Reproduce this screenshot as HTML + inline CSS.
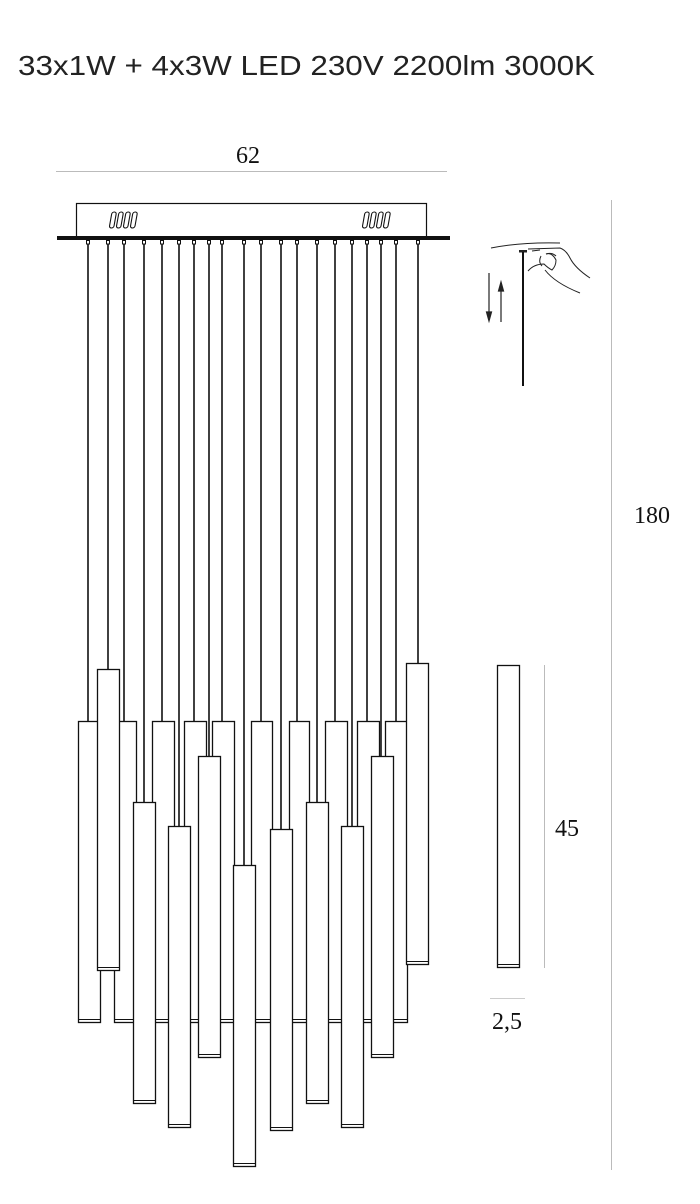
<!DOCTYPE html>
<html><head><meta charset="utf-8"><style>html,body{margin:0;padding:0;background:#fff}svg{display:block}</style></head>
<body>
<svg width="700" height="1204" viewBox="0 0 700 1204" xmlns="http://www.w3.org/2000/svg" font-family="'Liberation Serif', serif">
<rect width="700" height="1204" fill="#fff"/>
<text x="18" y="75" font-size="28" fill="#222" font-family="'Liberation Sans', sans-serif" textLength="577" lengthAdjust="spacingAndGlyphs">33x1W + 4x3W LED 230V  2200lm  3000K</text>
<text x="248" y="163" font-size="24" fill="#111" text-anchor="middle">62</text>
<line x1="56" y1="171.5" x2="447" y2="171.5" stroke="#bbb" stroke-width="1"/>
<line x1="611.5" y1="200" x2="611.5" y2="1170" stroke="#bbb" stroke-width="1"/>
<text x="652" y="523" font-size="24" fill="#111" text-anchor="middle">180</text>
<line x1="544.5" y1="665" x2="544.5" y2="968" stroke="#bbb" stroke-width="1"/>
<text x="567" y="836" font-size="24" fill="#111" text-anchor="middle">45</text>
<line x1="490" y1="998.5" x2="525" y2="998.5" stroke="#ccc" stroke-width="1"/>
<text x="507" y="1029" font-size="24" fill="#111" text-anchor="middle">2,5</text>

<rect x="76.5" y="203.5" width="350" height="34" fill="#fff" stroke="#111" stroke-width="1.2"/>
<rect x="57" y="236" width="393" height="4" fill="#111"/>
<g fill="none" stroke="#111" stroke-width="1.1">
<g transform="translate(110,212) skewX(-10)">
<rect x="2" y="0" width="4.5" height="16" rx="2.2"/><rect x="9" y="0" width="4.5" height="16" rx="2.2"/><rect x="16" y="0" width="4.5" height="16" rx="2.2"/><rect x="23" y="0" width="4.5" height="16" rx="2.2"/>
</g>
<g transform="translate(363,212) skewX(-10)">
<rect x="2" y="0" width="4.5" height="16" rx="2.2"/><rect x="9" y="0" width="4.5" height="16" rx="2.2"/><rect x="16" y="0" width="4.5" height="16" rx="2.2"/><rect x="23" y="0" width="4.5" height="16" rx="2.2"/>
</g>
</g>

<g stroke="#111" fill="#fff">
<g stroke-width="1">
<rect x="86.5" y="240.5" width="3" height="3.5"/><rect x="106.5" y="240.5" width="3" height="3.5"/><rect x="122.5" y="240.5" width="3" height="3.5"/><rect x="142.5" y="240.5" width="3" height="3.5"/><rect x="160.5" y="240.5" width="3" height="3.5"/><rect x="177.5" y="240.5" width="3" height="3.5"/><rect x="192.5" y="240.5" width="3" height="3.5"/><rect x="207.5" y="240.5" width="3" height="3.5"/><rect x="220.5" y="240.5" width="3" height="3.5"/><rect x="242.5" y="240.5" width="3" height="3.5"/><rect x="259.5" y="240.5" width="3" height="3.5"/><rect x="279.5" y="240.5" width="3" height="3.5"/><rect x="295.5" y="240.5" width="3" height="3.5"/><rect x="315.5" y="240.5" width="3" height="3.5"/><rect x="333.5" y="240.5" width="3" height="3.5"/><rect x="350.5" y="240.5" width="3" height="3.5"/><rect x="365.5" y="240.5" width="3" height="3.5"/><rect x="379.5" y="240.5" width="3" height="3.5"/><rect x="394.5" y="240.5" width="3" height="3.5"/><rect x="416.5" y="240.5" width="3" height="3.5"/>
</g>
<g stroke-width="1.6" fill="none">
<line x1="88" y1="244" x2="88" y2="721"/><line x1="108" y1="244" x2="108" y2="669"/><line x1="124" y1="244" x2="124" y2="721"/><line x1="144" y1="244" x2="144" y2="802"/><line x1="162" y1="244" x2="162" y2="721"/><line x1="179" y1="244" x2="179" y2="826"/><line x1="194" y1="244" x2="194" y2="721"/><line x1="209" y1="244" x2="209" y2="756"/><line x1="222" y1="244" x2="222" y2="721"/><line x1="244" y1="244" x2="244" y2="865"/><line x1="261" y1="244" x2="261" y2="721"/><line x1="281" y1="244" x2="281" y2="829"/><line x1="297" y1="244" x2="297" y2="721"/><line x1="317" y1="244" x2="317" y2="802"/><line x1="335" y1="244" x2="335" y2="721"/><line x1="352" y1="244" x2="352" y2="826"/><line x1="367" y1="244" x2="367" y2="721"/><line x1="381" y1="244" x2="381" y2="756"/><line x1="396" y1="244" x2="396" y2="721"/><line x1="418" y1="244" x2="418" y2="663"/>
</g>
</g>

<g fill="#fff" stroke="#111" stroke-width="1.3">
<rect x="78.5" y="721.5" width="22" height="301"/>
<rect x="114.5" y="721.5" width="22" height="301"/>
<rect x="152.5" y="721.5" width="22" height="301"/>
<rect x="184.5" y="721.5" width="22" height="301"/>
<rect x="212.5" y="721.5" width="22" height="301"/>
<rect x="251.5" y="721.5" width="21" height="301"/>
<rect x="289.5" y="721.5" width="20" height="301"/>
<rect x="325.5" y="721.5" width="22" height="301"/>
<rect x="357.5" y="721.5" width="22" height="301"/>
<rect x="385.5" y="721.5" width="22" height="301"/>
</g>
<g stroke="#111" stroke-width="1">
<line x1="79" y1="1019.5" x2="100" y2="1019.5"/><line x1="115" y1="1019.5" x2="136" y2="1019.5"/><line x1="153" y1="1019.5" x2="174" y2="1019.5"/><line x1="185" y1="1019.5" x2="206" y2="1019.5"/><line x1="213" y1="1019.5" x2="234" y2="1019.5"/><line x1="252" y1="1019.5" x2="272" y2="1019.5"/><line x1="290" y1="1019.5" x2="309" y2="1019.5"/><line x1="326" y1="1019.5" x2="347" y2="1019.5"/><line x1="358" y1="1019.5" x2="379" y2="1019.5"/><line x1="386" y1="1019.5" x2="407" y2="1019.5"/>
</g>

<g fill="#fff" stroke="#111" stroke-width="1.3">
<rect x="97.5" y="669.5" width="22" height="301"/>
<rect x="406.5" y="663.5" width="22" height="301"/>
<rect x="133.5" y="802.5" width="22" height="301"/>
<rect x="168.5" y="826.5" width="22" height="301"/>
<rect x="198.5" y="756.5" width="22" height="301"/>
<rect x="233.5" y="865.5" width="22" height="301"/>
<rect x="270.5" y="829.5" width="22" height="301"/>
<rect x="306.5" y="802.5" width="22" height="301"/>
<rect x="341.5" y="826.5" width="22" height="301"/>
<rect x="371.5" y="756.5" width="22" height="301"/>
<rect x="497.5" y="665.5" width="22" height="302"/>
</g>
<g stroke="#111" stroke-width="1">
<line x1="98" y1="967.5" x2="119" y2="967.5"/><line x1="407" y1="961.5" x2="428" y2="961.5"/><line x1="134" y1="1100.5" x2="155" y2="1100.5"/><line x1="169" y1="1124.5" x2="190" y2="1124.5"/><line x1="199" y1="1054.5" x2="220" y2="1054.5"/><line x1="234" y1="1163.5" x2="255" y2="1163.5"/><line x1="271" y1="1127.5" x2="292" y2="1127.5"/><line x1="307" y1="1100.5" x2="328" y2="1100.5"/><line x1="342" y1="1124.5" x2="363" y2="1124.5"/><line x1="372" y1="1054.5" x2="393" y2="1054.5"/><line x1="498" y1="964.5" x2="519" y2="964.5"/>
</g>

<g fill="none" stroke="#222" stroke-width="1">
<path d="M491 248 Q520 242 560 243"/>
<path d="M528 249 L560 248 Q566 250 570 258 Q575 268 590 278"/>
<path d="M528 271 Q534 264 544 264 Q548 268 552 270 Q556 266 556 260 Q552 252 546 254"/>
<path d="M541 256 Q538 262 542 266 M546 254 Q552 252 556 256"/>
<path d="M545 270 Q555 283 580 293"/>
<path d="M532 251 L540 250"/>
</g>
<rect x="519" y="250" width="8" height="2.5" fill="#222"/>
<line x1="523" y1="252" x2="523" y2="386" stroke="#111" stroke-width="2"/>
<g stroke="#222" stroke-width="1.2" fill="#222">
<line x1="489" y1="273" x2="489" y2="314"/><path d="M486.5 312 L491.5 312 L489 321 Z"/>
<line x1="501" y1="290" x2="501" y2="322"/><path d="M498.5 291 L503.5 291 L501 282 Z"/>
</g>
</svg>
</body></html>
